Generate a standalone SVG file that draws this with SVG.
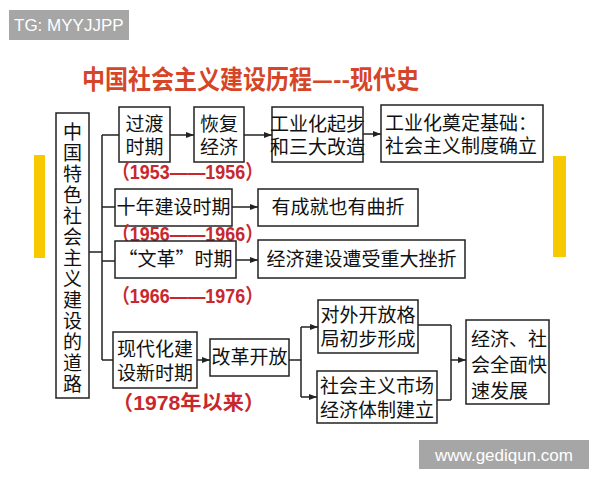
<svg xmlns="http://www.w3.org/2000/svg" width="600" height="480" viewBox="0 0 600 480">
<defs>
<style>
.box{fill:#fff;stroke:#222;stroke-width:1.5}
.t{font-family:"Liberation Sans","Noto Sans CJK SC",sans-serif;font-size:19px;fill:#111}
.cjk{font-family:"Noto Sans CJK SC",sans-serif}
.yr{font-family:"Liberation Sans","Noto Sans CJK SC",sans-serif;font-size:20px;font-weight:bold;fill:#c8282d}
.ln{fill:none;stroke:#222;stroke-width:1.5}
.wm{font-family:"Liberation Sans",Arial,sans-serif;font-size:17px;fill:#fff}
</style>
<marker id="ah" markerWidth="8" markerHeight="6" refX="8" refY="3" orient="auto" markerUnits="userSpaceOnUse">
<path d="M0,0 L8,3 L0,6 z" fill="#222"/>
</marker>
</defs>
<rect width="600" height="480" fill="#fff"/>
<rect x="34" y="155" width="11" height="103" fill="#f8c800"/>
<rect x="553" y="156" width="13" height="101" fill="#f8c800"/>
<rect x="9" y="10" width="120" height="30" fill="#a6a6a6"/>
<text class="wm" x="14" y="31">TG: MYYJJPP</text>
<text x="82" y="89" font-family="Noto Sans CJK SC,sans-serif" font-size="26" font-weight="bold" fill="#d64527" textLength="337" lengthAdjust="spacingAndGlyphs">中国社会主义建设历程—--现代史</text>

<g id="connectors">
<path class="ln" d="M89,252 H102 M102,135 V360 M102,135 H119 M102,207 H115 M102,261 H115 M102,360 H113"/>
<path class="ln" marker-end="url(#ah)" d="M170,135 H194"/>
<path class="ln" marker-end="url(#ah)" d="M244,135 H272"/>
<path class="ln" marker-end="url(#ah)" d="M363,134 H381"/>
<path class="ln" marker-end="url(#ah)" d="M232,207 H258"/>
<path class="ln" marker-end="url(#ah)" d="M236,260 H258"/>
<path class="ln" marker-end="url(#ah)" d="M197,360 H210"/>
<path class="ln" d="M289,360 H301 M301,327 V397"/>
<path class="ln" marker-end="url(#ah)" d="M301,327 H318"/>
<path class="ln" marker-end="url(#ah)" d="M301,397 H317"/>
<path class="ln" d="M418,325 H451 M437,400 H451 M451,325 V400"/>
<path class="ln" marker-end="url(#ah)" d="M451,360 H466"/>
</g>

<g id="n-root"><rect class="box" x="56" y="113" width="33" height="285"/>
<text class="t cjk" x="72.5" y="122" writing-mode="vertical-rl" font-size="19" letter-spacing="2">中国特色社会主义建设的道路</text></g>

<g id="n-guodu"><rect class="box" x="119" y="107" width="51" height="55"/>
<text class="t" text-anchor="middle"><tspan x="144.5" y="131">过渡</tspan><tspan x="144.5" y="154">时期</tspan></text></g>
<g id="n-huifu"><rect class="box" x="194" y="107" width="50" height="55"/>
<text class="t" text-anchor="middle"><tspan x="219" y="131">恢复</tspan><tspan x="219" y="154">经济</tspan></text></g>
<g id="n-qibu"><rect class="box" x="272" y="107" width="91" height="55"/>
<text class="t" text-anchor="middle"><tspan x="317.5" y="131">工业化起步</tspan><tspan x="317.5" y="154">和三大改造</tspan></text></g>
<g id="n-diding"><rect class="box" x="381" y="105" width="162" height="57"/>
<text class="t"><tspan x="385" y="130">工业化奠定基础：</tspan><tspan x="385" y="153">社会主义制度确立</tspan></text></g>
<text class="yr" x="112" y="179" textLength="151" lengthAdjust="spacingAndGlyphs">（1953——1956）</text>

<g id="n-shinian"><rect class="box" x="115" y="189" width="117" height="37"/>
<text class="t" x="173.5" y="214" text-anchor="middle">十年建设时期</text></g>
<g id="n-youcheng"><rect class="box" x="258" y="189" width="160" height="37"/>
<text class="t" x="338" y="214" text-anchor="middle">有成就也有曲折</text></g>
<text class="yr" x="112" y="241" textLength="151" lengthAdjust="spacingAndGlyphs">（1956——1966）</text>

<g id="n-wenge"><rect class="box" x="115" y="241" width="121" height="37"/>
<text class="t cjk" x="175.5" y="266" text-anchor="middle">“文革”时期</text></g>
<g id="n-cuozhe"><rect class="box" x="258" y="240" width="207" height="38"/>
<text class="t" x="361.5" y="266" text-anchor="middle">经济建设遭受重大挫折</text></g>
<text class="yr" x="112" y="303" textLength="151" lengthAdjust="spacingAndGlyphs">（1966——1976）</text>

<g id="n-xiandai"><rect class="box" x="113" y="332" width="84" height="56"/>
<text class="t" text-anchor="middle"><tspan x="155" y="356">现代化建</tspan><tspan x="155" y="380">设新时期</tspan></text></g>
<text class="yr" x="112" y="410" textLength="153" lengthAdjust="spacingAndGlyphs">（1978年以来）</text>
<g id="n-gaige"><rect class="box" x="210" y="339" width="79" height="37"/>
<text class="t" x="249.5" y="364" text-anchor="middle">改革开放</text></g>
<g id="n-duiwai"><rect class="box" x="318" y="300" width="100" height="53"/>
<text class="t" text-anchor="middle"><tspan x="368" y="322">对外开放格</tspan><tspan x="368" y="346">局初步形成</tspan></text></g>
<g id="n-shichang"><rect class="box" x="317" y="371" width="120" height="52"/>
<text class="t" text-anchor="middle"><tspan x="377" y="393">社会主义市场</tspan><tspan x="377" y="417">经济体制建立</tspan></text></g>
<g id="n-fazhan"><rect class="box" x="466" y="320" width="83" height="84"/>
<text class="t"><tspan x="471" y="346">经济、社</tspan><tspan x="471" y="372">会全面快</tspan><tspan x="471" y="398">速发展</tspan></text></g>

<rect x="419" y="440" width="170" height="29" fill="#a6a6a6"/>
<text class="wm" x="504" y="461" text-anchor="middle" font-size="18">www.gediqun.com</text>
</svg>
